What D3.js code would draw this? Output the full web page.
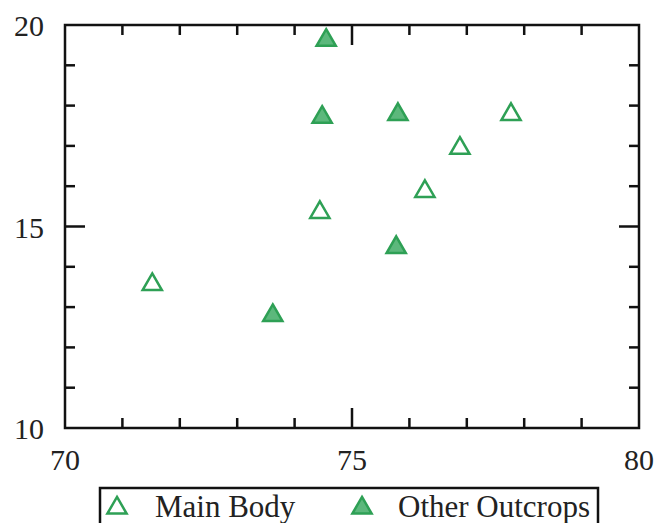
<!DOCTYPE html>
<meta charset="utf-8">
<script src="https://cdn.jsdelivr.net/npm/d3@7"></script>
<body style="margin:0">
<script>

    // data
    var mainBodyX = [71.52, 74.44, 76.27, 76.88, 77.77];
    var mainBodyY = [13.56, 15.35, 15.87, 16.94, 17.78];
    var otherX = [74.55, 74.48, 75.80, 75.77, 73.62];
    var otherY = [19.62, 17.71, 17.78, 14.48, 12.79];
    var xTicks = [70, 75, 80];
    var yTicks = [10, 15, 20];
    var seriesNames = ["Main Body", "Other Outcrops"];

    var w = 659, h = 523;
    var margin = {left: 65, right: 20, top: 25, bottom: 95};

    var svg = d3.select("body")
                .append("svg")
                .attr("width", w)
                .attr("height", h)
                .style("font-family", "'Liberation Serif'");

    var x = d3.scaleLinear().domain([70, 80]).range([margin.left, w - margin.right]);
    var y = d3.scaleLinear().domain([10, 20]).range([h - margin.bottom, margin.top]);

    var minorX = d3.range(71, 80).filter(function(d){ return d % 5 !== 0; });
    var minorY = d3.range(11, 20).filter(function(d){ return d % 5 !== 0; });

    // frame
    svg.append("rect")
       .attr("x", x(70)).attr("y", y(20))
       .attr("width", x(80) - x(70)).attr("height", y(10) - y(20))
       .attr("fill", "none").attr("stroke", "#111").attr("stroke-width", 2.5);

    var ticks = svg.append("g").attr("stroke", "#111").attr("stroke-width", 2.5);

    function tickLen(d) { return d % 5 === 0 ? 20 : 10; }
    var allX = minorX.concat([75]);
    var allY = minorY.concat([15]);

    // bottom and top
    allX.forEach(function(d){
        ticks.append("line").attr("x1", x(d)).attr("x2", x(d))
             .attr("y1", y(10)).attr("y2", y(10) - tickLen(d));
        ticks.append("line").attr("x1", x(d)).attr("x2", x(d))
             .attr("y1", y(20)).attr("y2", y(20) + tickLen(d));
    });
    // left and right
    allY.forEach(function(d){
        ticks.append("line").attr("y1", y(d)).attr("y2", y(d))
             .attr("x1", x(70)).attr("x2", x(70) + tickLen(d));
        ticks.append("line").attr("y1", y(d)).attr("y2", y(d))
             .attr("x1", x(80)).attr("x2", x(80) - tickLen(d));
    });

    svg.selectAll(".xlab")
       .data(xTicks).enter().append("text")
       .attr("class", "xlab")
       .attr("x", function(d){ return x(d); })
       .attr("y", y(10) + 42)
       .attr("text-anchor", "middle")
       .attr("font-size", 30)
       .attr("fill", "#222")
       .style("font-family", "'Liberation Serif'")
       .text(function(d){ return d; });

    svg.selectAll(".ylab")
       .data(yTicks).enter().append("text")
       .attr("class", "ylab")
       .attr("x", x(70) - 21)
       .attr("y", function(d){ return y(d) + 11; })
       .attr("text-anchor", "end")
       .attr("font-size", 30)
       .attr("fill", "#222")
       .style("font-family", "'Liberation Serif'")
       .text(function(d){ return d; });

    var tri = d3.symbol().type(d3.symbolTriangle).size(160);

    function triPath(cx, cy) {
        return "translate(" + cx + "," + cy + ")";
    }

    svg.selectAll(".main")
       .data(mainBodyX).enter().append("path")
       .attr("class", "main")
       .attr("d", tri)
       .attr("transform", function(d, i){ return triPath(x(d), y(mainBodyY[i])); })
       .attr("fill", "#fff")
       .attr("stroke", "#2ea055")
       .attr("stroke-width", 2.5);

    svg.selectAll(".other")
       .data(otherX).enter().append("path")
       .attr("class", "other")
       .attr("d", tri)
       .attr("transform", function(d, i){ return triPath(x(d), y(otherY[i])); })
       .attr("fill", "#5cb87c")
       .attr("stroke", "#2ea055")
       .attr("stroke-width", 2.5);

    // legend
    var lg = svg.append("g");
    lg.append("rect")
      .attr("x", 100).attr("y", 488)
      .attr("width", 498).attr("height", 40)
      .attr("fill", "#fff").attr("stroke", "#111").attr("stroke-width", 2.5);

    var lx = [117, 362];
    var tx = [155, 398];
    seriesNames.forEach(function(name, i){
        lg.append("path")
          .attr("d", tri)
          .attr("transform", triPath(lx[i], 508))
          .attr("fill", i === 0 ? "#fff" : "#5cb87c")
          .attr("stroke", "#2ea055")
          .attr("stroke-width", 2.5);
        lg.append("text")
          .attr("x", tx[i]).attr("y", 517)
          .attr("font-size", 31)
          .attr("fill", "#222")
          .style("font-family", "'Liberation Serif'")
          .text(name);
    });

</script>
</body>
